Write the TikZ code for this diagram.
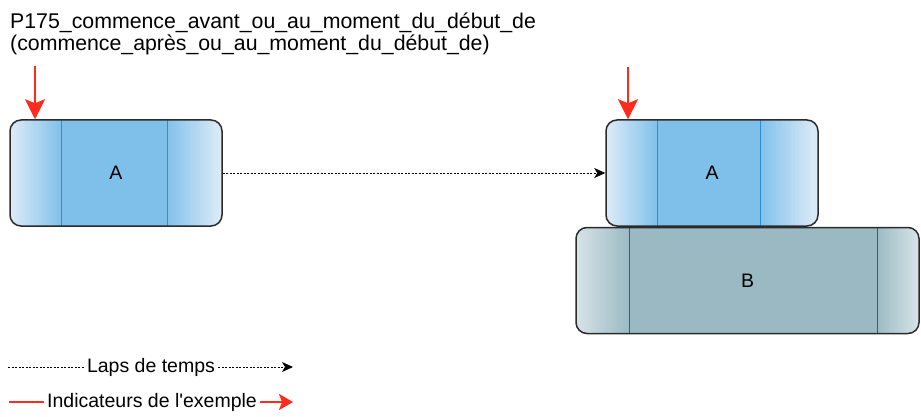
\documentclass[tikz,border=0pt]{standalone}
\usepackage{fontspec}
\setmainfont{Liberation Sans}
\usetikzlibrary{arrows.meta}
\usetikzlibrary{calc}
\usetikzlibrary{positioning}

\definecolor{amain}{RGB}{126,192,234}
\definecolor{alight}{RGB}{221,235,247}
\definecolor{aline}{RGB}{44,142,214}
\definecolor{bmain}{RGB}{155,185,194}
\definecolor{blight}{RGB}{214,227,232}
\definecolor{bline}{RGB}{43,101,119}
\definecolor{boxborder}{RGB}{43,43,43}
\definecolor{markred}{RGB}{255,43,28}

\tikzset{
	% width, left part, right part, main colour, light colour, divider colour
	phasebox/.style n args={6}{draw=boxborder, line width=1.5pt, rounded corners=11pt,
		minimum width=#1, minimum height=106pt, fill=#4, inner sep=0pt,
		font=\fontsize{19.5}{24}\selectfont,
		path picture={
			\foreach \i [evaluate=\i as \p using 4*\i] in {0,...,24} {
				\fill[sharp corners, #4!\p!#5]
					([xshift={\i*#2/25}]path picture bounding box.south west) rectangle ([xshift={(\i+1)*#2/25+0.4pt}]path picture bounding box.north west);
				\fill[sharp corners, #4!\p!#5]
					([xshift={-\i*#3/25}]path picture bounding box.south east) rectangle ([xshift={-(\i+1)*#3/25-0.4pt}]path picture bounding box.north east);
			}
			\draw[sharp corners, #6, line width=1pt]
				([xshift=#2]path picture bounding box.south west) -- ([xshift=#2]path picture bounding box.north west)
				([xshift=-#3]path picture bounding box.south east) -- ([xshift=-#3]path picture bounding box.north east);
		}},
	timeline/.style={black, line width=0.8pt, dash pattern=on 2pt off 1.5pt},
	timetip/.style={-{Stealth[length=11pt, width=10pt, inset=3pt]}},
	marker/.style={markred, line width=2pt, -{Stealth[length=20pt, width=20pt, inset=4pt]}},
	legend/.style={font=\fontsize{19.5}{24}\selectfont, inner sep=3pt},
}

\begin{document}
\begin{tikzpicture}[x=1pt, y=-1pt]
	\useasboundingbox (0,0) rectangle (921,417);

	\node[anchor=base west, align=left, font=\fontsize{21.3}{22.5}\selectfont, inner sep=0pt] (title) at (10,51)
		{P175\_commence\_avant\_ou\_au\_moment\_du\_début\_de\\(commence\_après\_ou\_au\_moment\_du\_début\_de)};

	% the two situations
	\node[phasebox={212pt}{51pt}{55pt}{amain}{alight}{aline}] (A1) at (116,173) {A};
	\node[phasebox={212pt}{51pt}{58pt}{amain}{alight}{aline}] (A2) at (712,173) {A};
	\node[phasebox={343pt}{53pt}{42pt}{bmain}{blight}{bline}, below=0pt of A2.south, anchor=north, xshift=35.5pt] (B) {B};

	\draw[timeline, timetip] (A1.east) -- (A2.west);

	% example markers
	\coordinate (mark1) at (35,66);
	\coordinate (mark2) at (628,67);
	\draw[marker] (mark1) -- (mark1 |- A1.north);
	\draw[marker] (mark2) -- (mark2 |- A2.north);

	% legend
	\node[legend] (laps) at (151,367) {Laps de temps};
	\coordinate (laps start) at (8,367);
	\coordinate (laps end) at (293,367);
	\draw[timeline] (laps start) -- (laps.west);
	\draw[timeline, timetip] (laps.east) -- (laps end);

	\node[legend] (indic) at (152,402) {Indicateurs de l\textquotesingle exemple};
	\coordinate (indic start) at (9,402);
	\coordinate (indic end) at (293,402);
	\draw[markred, line width=2pt] (indic start) -- (indic.west);
	\draw[markred, line width=2pt, -{Stealth[length=14pt, width=16pt, inset=3pt]}] (indic.east) -- (indic end);
\end{tikzpicture}
\end{document}
